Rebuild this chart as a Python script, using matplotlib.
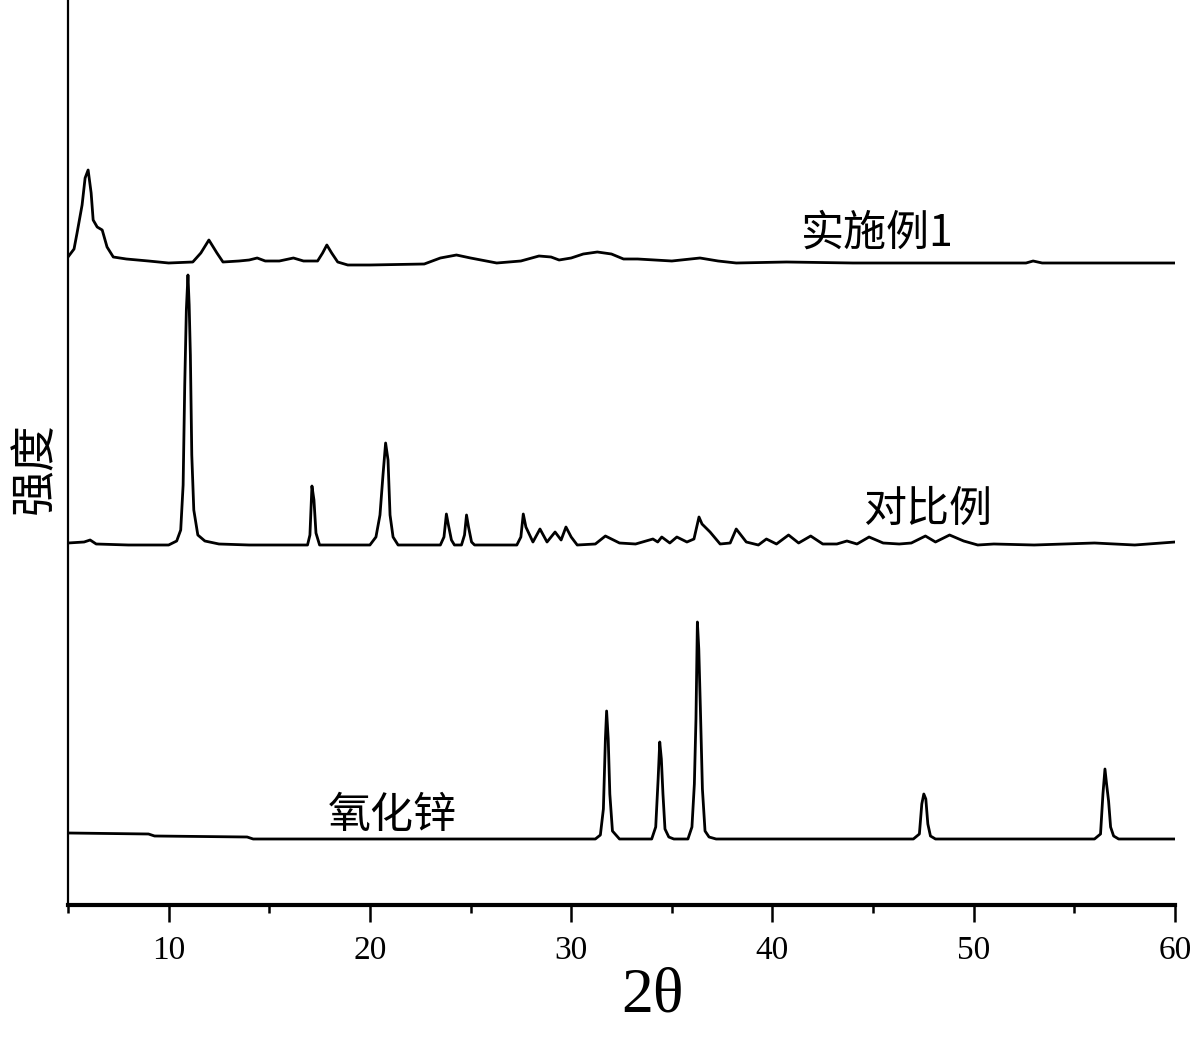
import matplotlib
matplotlib.use("Agg")
import matplotlib.pyplot as plt
from matplotlib.ticker import MultipleLocator

# XRD 数据 (2θ, 强度)，各曲线另加偏移量堆叠
shishili_pts = [(5.0, 6), (5.3, 14), (5.45, 30), (5.7, 58), (5.85, 85), (6.0, 93),
                (6.15, 70), (6.25, 43), (6.45, 36), (6.7, 33), (6.94, 16), (7.25, 6),
                (7.9, 4), (9.0, 2), (10.0, 0), (11.2, 1), (11.6, 10), (12.0, 23),
                (12.4, 10), (12.7, 1), (13.5, 2), (14.0, 3), (14.4, 5), (14.8, 2),
                (15.5, 2), (16.2, 5), (16.7, 2), (17.4, 2), (17.65, 10), (17.86, 18),
                (18.1, 10), (18.4, 1), (18.9, -2), (20.0, -2), (22.7, -1), (23.5, 5),
                (24.3, 8), (25.0, 5), (26.3, 0), (27.5, 2), (28.4, 7), (29.0, 6),
                (29.4, 3), (30.0, 5), (30.6, 9), (31.3, 11), (32.0, 9), (32.6, 4),
                (33.3, 4), (35.0, 2), (36.4, 5), (37.3, 2), (38.2, 0), (40.7, 1),
                (44.0, 0), (48.0, 0), (52.6, 0), (52.95, 2), (53.4, 0), (56.0, 0),
                (60.0, 0)]

duibili_pts = [(5.0, 2), (5.8, 3), (6.1, 5), (6.4, 1), (8.0, 0), (10.0, 0), (10.4, 4),
               (10.6, 15), (10.72, 60), (10.8, 160), (10.88, 235), (10.96, 270),
               (11.02, 240), (11.08, 190), (11.15, 90), (11.25, 35), (11.45, 10),
               (11.8, 4), (12.5, 1), (14.0, 0), (16.9, 0), (17.02, 10), (17.12, 59),
               (17.22, 45), (17.32, 12), (17.5, 0), (20.0, 0), (20.3, 8), (20.5, 30),
               (20.65, 70), (20.78, 102), (20.9, 85), (21.0, 30), (21.15, 8),
               (21.4, 0), (23.5, 0), (23.68, 8), (23.8, 31), (23.9, 20), (24.05, 5),
               (24.2, 0), (24.55, 0), (24.7, 10), (24.8, 30), (24.9, 18), (25.05, 3),
               (25.2, 0), (27.3, 0), (27.5, 8), (27.62, 31), (27.75, 18), (28.1, 3),
               (28.45, 16), (28.8, 3), (29.2, 13), (29.5, 5), (29.74, 18), (30.0, 8),
               (30.3, 0), (31.2, 1), (31.7, 9), (32.4, 2), (33.2, 1), (34.06, 6),
               (34.3, 3), (34.5, 8), (34.9, 2), (35.25, 8), (35.75, 3), (36.1, 6),
               (36.35, 28), (36.5, 21), (36.9, 13), (37.4, 1), (37.9, 2), (38.2, 16),
               (38.7, 3), (39.3, 0), (39.7, 6), (40.2, 1), (40.8, 10), (41.3, 2),
               (41.9, 9), (42.5, 1), (43.2, 1), (43.7, 4), (44.2, 1), (44.8, 8),
               (45.5, 2), (46.3, 1), (46.9, 2), (47.6, 9), (48.1, 3), (48.8, 10),
               (49.5, 4), (50.2, 0), (51.0, 1), (53.0, 0), (56.0, 2), (58.0, 0),
               (60.0, 3)]

zno_pts = [(5.0, 6), (9.0, 5), (9.3, 3), (13.9, 2), (14.2, 0), (31.2, 0), (31.45, 4),
           (31.6, 30), (31.7, 100), (31.76, 128), (31.84, 100), (31.92, 45),
           (32.05, 8), (32.4, 0), (34.0, 0), (34.2, 12), (34.32, 60), (34.4, 97),
           (34.48, 80), (34.56, 45), (34.66, 10), (34.85, 2), (35.1, 0), (35.8, 0),
           (36.0, 12), (36.12, 55), (36.2, 120), (36.27, 217), (36.34, 190),
           (36.42, 130), (36.52, 50), (36.65, 8), (36.85, 2), (37.2, 0), (47.0, 0),
           (47.3, 5), (47.42, 35), (47.52, 45), (47.62, 40), (47.72, 15), (47.85, 3),
           (48.1, 0), (56.0, 0), (56.3, 5), (56.42, 45), (56.52, 70), (56.6, 55),
           (56.7, 38), (56.8, 12), (56.95, 3), (57.2, 0), (60.0, 0)]

offsets = [642, 360, 66]
labels = ["实施例1", "对比例", "氧化锌"]
label_pos = [(45.2, 671), (47.7, 395), (21.1, 89)]
xticks = [10, 20, 30, 40, 50, 60]

cjk = ['Noto Sans CJK SC', 'DejaVu Sans']
serif = ['Liberation Serif', 'DejaVu Serif']

fig = plt.figure(figsize=(12, 10.39), dpi=100)
ax = fig.add_axes([68 / 1200, 134 / 1039, 1107 / 1200, 905 / 1039])

for pts, off in zip([shishili_pts, duibili_pts, zno_pts], offsets):
    xs = [p[0] for p in pts]
    ys = [p[1] + off for p in pts]
    ax.plot(xs, ys, color='black', linewidth=2.0)

for txt, (tx, ty) in zip(labels, label_pos):
    ax.text(tx, ty, txt, fontsize=31, family=cjk, ha='center', va='center')

ax.set_xlim(5, 60)
ax.set_ylim(0, 905)

ax.spines['top'].set_visible(False)
ax.spines['right'].set_visible(False)
ax.spines['bottom'].set_linewidth(3)
ax.spines['left'].set_linewidth(1.6)

ax.set_xticks(xticks)
ax.xaxis.set_minor_locator(MultipleLocator(5))
ax.set_yticks([])
ax.tick_params(axis='x', which='major', direction='out', length=12, width=1.8,
               pad=10, labelsize=24)
ax.tick_params(axis='x', which='minor', direction='out', length=6, width=1.8)
for lab in ax.get_xticklabels():
    lab.set_family(serif)

fig.text(652 / 1200, 1 - 997 / 1039, "2θ", fontsize=46, family=serif,
         ha='center', va='center')
fig.text(35 / 1200, 1 - 468 / 1039, "强度", fontsize=33, family=cjk,
         rotation=90, ha='center', va='center')

fig.savefig("out.png", dpi=100, facecolor='white')
